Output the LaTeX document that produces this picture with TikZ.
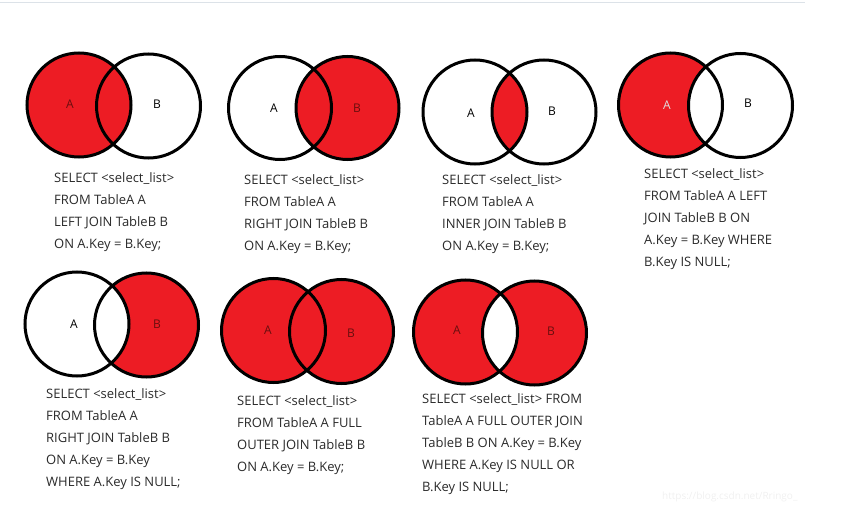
\documentclass[tikz,border=0pt]{standalone}
\usepackage{fontspec}
\setmainfont{Open Sans}
\definecolor{vred}{HTML}{ED1C24}
\definecolor{dred}{HTML}{6A0E0E}
\definecolor{txt}{HTML}{2A2A2A}
\definecolor{topline}{HTML}{DCE2E8}
\begin{document}
\begin{tikzpicture}[x=1pt,y=-1pt,
  ring/.style={line width=3pt,draw=black},
  lbl/.style={font=\fontsize{12}{12}\selectfont,text=black,inner sep=0pt},
  lblr/.style={lbl,text=dred},
  code/.style={font=\fontsize{13}{22}\selectfont,text=txt,align=left,anchor=north west,inner sep=0pt}]
\useasboundingbox (0,0) rectangle (841,524);
\draw[topline,line width=1.2pt] (0,2.5) -- (805,2.5);
% ---------- 1 LEFT JOIN
\fill[vred] (79,105) circle (52);
\draw[ring] (79,105) circle (52) (148.5,106) circle (52);
\node[lblr] (a1) at (70,104) {A};
\node[lbl] (b1) at (157,104) {B};
\node[code] (t1) at (54,172) {SELECT <select\_list>\\FROM TableA A\\LEFT JOIN TableB B\\ON A.Key = B.Key;};
% ---------- 2 RIGHT JOIN
\fill[vred] (347.5,108) circle (51.5);
\draw[ring] (280,108) circle (51.5) (347.5,108) circle (51.5);
\node[lbl] (a2) at (274,108) {A};
\node[lblr] (b2) at (357,108) {B};
\node[code] (t2) at (244,174) {SELECT <select\_list>\\FROM TableA A\\RIGHT JOIN TableB B\\ON A.Key = B.Key;};
% ---------- 3 INNER JOIN
\begin{scope}
\clip (475,112) circle (52);
\fill[vred] (544,112) circle (52);
\end{scope}
\draw[ring] (475,112) circle (52) (544,112) circle (52);
\node[lbl] (a3) at (471,113) {A};
\node[lbl] (b3) at (552,111) {B};
\node[code] (t3) at (442,174) {SELECT <select\_list>\\FROM TableA A\\INNER JOIN TableB B\\ON A.Key = B.Key;};
% ---------- 4 LEFT excl
\fill[vred] (670.5,105) circle (52);
\begin{scope}
\clip (670.5,105) circle (52);
\fill[white] (740.5,105.5) circle (52);
\end{scope}
\draw[ring] (670.5,105) circle (52) (740.5,105.5) circle (52);
\node[lbl,text=gray!25] (a4) at (667,105) {A};
\node[lbl] (b4) at (748,103) {B};
\node[code] (t4) at (644,168) {SELECT <select\_list>\\FROM TableA A LEFT\\JOIN TableB B ON\\A.Key = B.Key WHERE\\B.Key IS NULL;};
% ---------- 5 RIGHT excl
\fill[vred] (146.5,325) circle (52);
\begin{scope}
\clip (146.5,325) circle (52);
\fill[white] (77,324) circle (52);
\end{scope}
\draw[ring] (77,324) circle (52) (146.5,325) circle (52);
\node[lbl] (a5) at (74,324) {A};
\node[lblr] (b5) at (157,324) {B};
\node[code] (t5) at (46,388) {SELECT <select\_list>\\FROM TableA A\\RIGHT JOIN TableB B\\ON A.Key = B.Key\\WHERE A.Key IS NULL;};
% ---------- 6 FULL OUTER
\fill[vred] (273.5,330.5) circle (52) (341.5,331.5) circle (52);
\draw[ring] (273.5,330.5) circle (52) (341.5,331.5) circle (52);
\node[lblr] (a6) at (268,330) {A};
\node[lblr] (b6) at (351,333) {B};
\node[code] (t6) at (237,395) {SELECT <select\_list>\\FROM TableA A FULL\\OUTER JOIN TableB B\\ON A.Key = B.Key;};
% ---------- 7 FULL OUTER excl
\fill[vred,even odd rule] (465.5,332) circle (52) (534.5,333) circle (52);
\draw[ring] (465.5,332) circle (52) (534.5,333) circle (52);
\node[lblr] (a7) at (457,330) {A};
\node[lblr] (b7) at (551,331) {B};
\node[code] (t7) at (422,393) {SELECT <select\_list> FROM\\TableA A FULL OUTER JOIN\\TableB B ON A.Key = B.Key\\WHERE A.Key IS NULL OR\\B.Key IS NULL;};
% watermark
\node[font=\fontsize{10}{10}\selectfont,text=gray!12,anchor=west,inner sep=0pt] (wm) at (662,497) {https://blog.csdn.net/Rringo\_};
\end{tikzpicture}
\end{document}
